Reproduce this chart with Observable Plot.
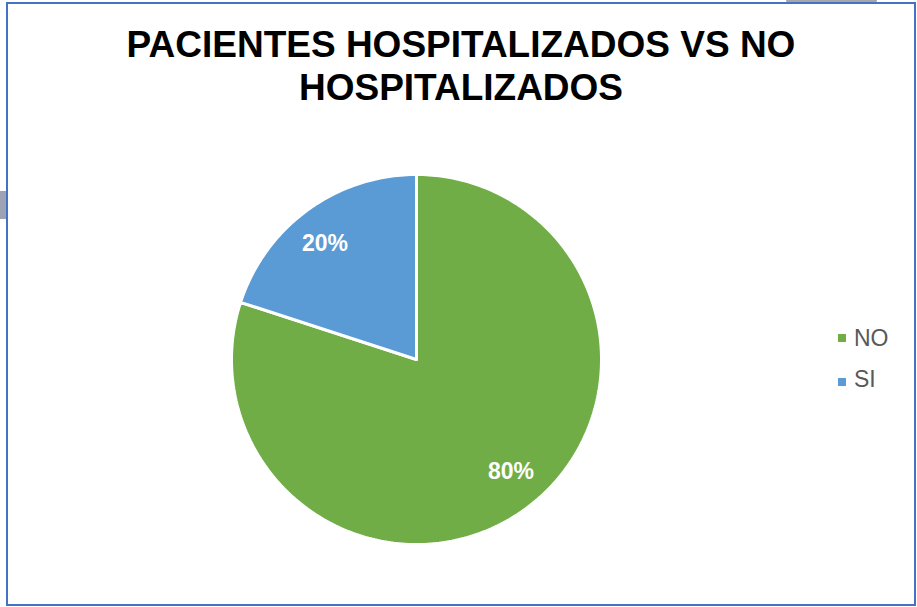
<!DOCTYPE html>
<html>
<head>
<meta charset="utf-8">
<script src="https://cdn.jsdelivr.net/npm/d3@7"></script>
<script src="https://cdn.jsdelivr.net/npm/@observablehq/plot@0.6"></script>
<style>
  html, body { margin: 0; padding: 0; background: #ffffff; }
  #wrap { position: relative; width: 917px; height: 607px; overflow: hidden; background: #ffffff;
          font-family: "Liberation Sans", Arial, Helvetica, sans-serif; }
  #title { position: relative; height: 110px; }
  #title div { position: absolute; left: 61px; top: 23px; width: 800px; text-align: center;
               font-weight: bold; font-size: 37px; line-height: 43px; color: #000000; }
  #chart svg { display: block; }
  .leg { position: absolute; left: 838px; font-size: 23px; line-height: 23px; color: #595959; }
  .leg span.sw { position: absolute; left: 0; width: 8px; height: 8px; }
  .leg span.tx { position: absolute; left: 16px; white-space: nowrap; }
  #frame { position: absolute; left: 6px; top: 2px; width: 910px; height: 604px; box-sizing: border-box;
           border: 2px solid #4472C4; pointer-events: none; }
  #artTop { position: absolute; left: 786px; top: 0; width: 91px; height: 3px; background: #a6a6a6; border-radius: 0 0 3px 3px; }
  #artLeft { position: absolute; left: 0; top: 191px; width: 6px; height: 28px; background: #9da3b3; }
</style>
</head>
<body>
<div id="wrap">
  <div id="title"><div>PACIENTES HOSPITALIZADOS VS NO HOSPITALIZADOS</div></div>
  <div id="chart"></div>
  <div id="legend"></div>
  <div id="artTop"></div>
  <div id="artLeft"></div>
  <div id="frame"></div>
</div>
<script>
// ---- data ----
const categories = ["NO", "SI"];
const values = [80, 20];
const colors = ["#70AD47", "#5B9BD5"];

// ---- build slices from the data ----
const total = d3.sum(values);
const arcs = d3.pie().sort(null).value(d => d.value)(categories.map((c, i) => ({label: c, value: values[i]})));

const slicePoints = [];
arcs.forEach(a => {
  const lab = a.data.label;
  slicePoints.push({label: lab, x: 0, y: 0});
  const n = Math.max(2, Math.ceil((a.endAngle - a.startAngle) / (Math.PI / 180)));
  for (let k = 0; k <= n; k++) {
    const t = a.startAngle + (a.endAngle - a.startAngle) * k / n;
    slicePoints.push({label: lab, x: Math.sin(t), y: Math.cos(t)});
  }
  slicePoints.push({label: lab, x: 0, y: 0});
});

const labelR = 0.795;
const labels = arcs.map(a => {
  const m = (a.startAngle + a.endAngle) / 2;
  return {label: a.data.label, x: labelR * Math.sin(m), y: labelR * Math.cos(m),
          text: Math.round(a.data.value / total * 100) + "%"};
});

// ---- geometry of the plot frame ----
const W = 917, H = 497;
const cx = 416, cy = 249, R = 185;

const textStyle = {x: "x", y: "y", text: "text", fill: "#ffffff", fontWeight: "bold", fontSize: 23};

const chart = Plot.plot({
  width: W,
  height: H,
  margin: 0,
  x: {domain: [-1, 1], range: [cx - R, cx + R], axis: null},
  y: {domain: [-1, 1], range: [cy + R, cy - R], axis: null},
  color: {domain: categories, range: colors},
  style: {background: "transparent", fontFamily: "'Liberation Sans', Arial, sans-serif"},
  marks: [
    Plot.line(slicePoints, {x: "x", y: "y", z: "label", fill: "label", stroke: "#ffffff", strokeWidth: 3, strokeLinejoin: "miter"}),
    // Excel "best fit" label placement nudges
    Plot.text(labels.filter(d => d.label === "NO"), {...textStyle, dx: 8, dy: -7}),
    Plot.text(labels.filter(d => d.label === "SI"), {...textStyle, dx: -5, dy: 3})
  ]
});
document.getElementById("chart").appendChild(chart);

// ---- legend ----
const legTops = [327, 368];
const swTops = [334, 378];
const leg = document.getElementById("legend");
categories.forEach((c, i) => {
  const d = document.createElement("div");
  d.className = "leg";
  d.style.top = "0px";
  const sw = document.createElement("span");
  sw.className = "sw";
  sw.style.background = colors[i];
  sw.style.top = swTops[i] + "px";
  const tx = document.createElement("span");
  tx.className = "tx";
  tx.style.top = legTops[i] + "px";
  tx.textContent = c;
  d.appendChild(sw);
  d.appendChild(tx);
  leg.appendChild(d);
});
</script>
</body>
</html>
